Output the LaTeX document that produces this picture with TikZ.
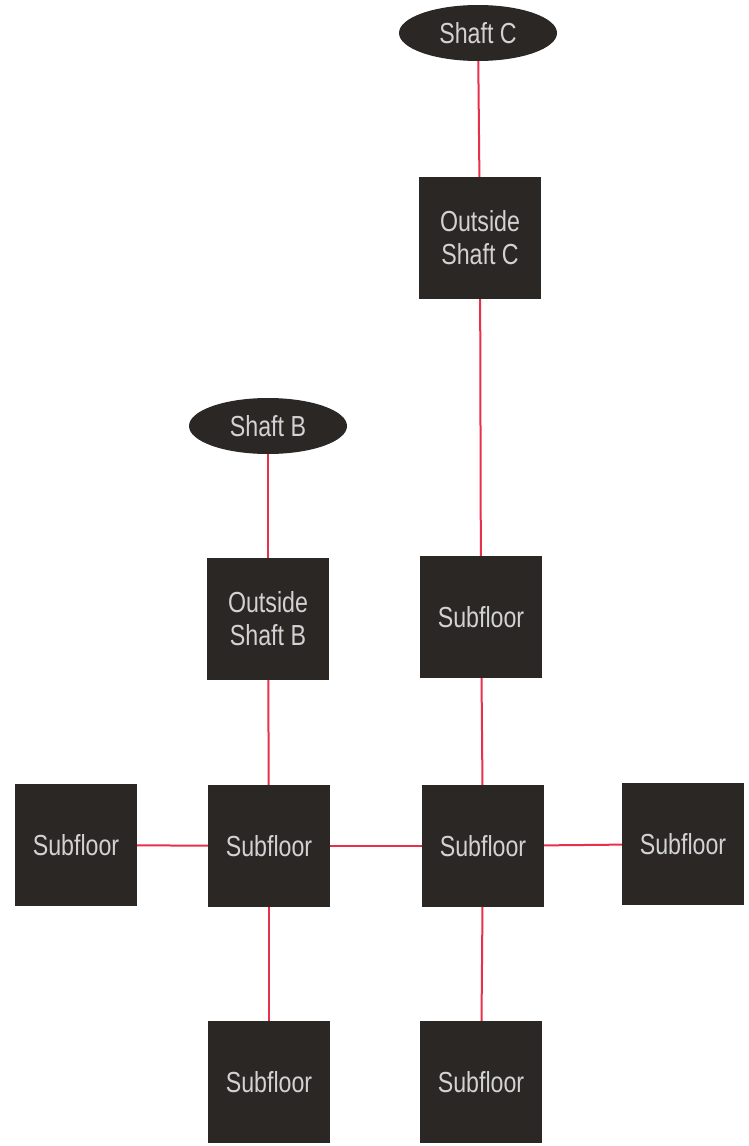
\documentclass[tikz,border=0pt]{standalone}
\usepackage{fontspec}
\setmainfont{Liberation Sans}[FakeStretch=0.8]
\usetikzlibrary{shapes.geometric}
\definecolor{boxfill}{HTML}{2A2725}
\definecolor{boxtext}{HTML}{D2D2D2}
\definecolor{linkred}{HTML}{E8304A}
\tikzset{
  roombox/.style={draw=none,fill=boxfill,text=boxtext,rectangle,align=center,
    minimum width=122pt,minimum height=122pt,inner sep=0pt,
    font=\fontsize{29}{33}\selectfont},
  shaftnode/.style={draw=none,fill=boxfill,text=boxtext,ellipse,
    minimum width=158pt,minimum height=56pt,inner sep=0pt,
    font=\fontsize{29}{33}\selectfont},
  link/.style={draw=linkred,line width=2pt}
}
\begin{document}
\begin{tikzpicture}[x=1pt,y=-1pt]
\useasboundingbox (0,0) rectangle (748,1146);
\node[shaftnode] (shaftc) at (478,33) {Shaft C};
\node[roombox] (outc) at (480,238) {Outside\\Shaft C};
\node[roombox] (subtop) at (481,617) {Subfloor};
\node[shaftnode] (shaftb) at (268,426) {Shaft B};
\node[roombox] (outb) at (268,619) {Outside\\Shaft B};
\node[roombox] (subl) at (76,845) {Subfloor};
\node[roombox] (subml) at (269,846) {Subfloor};
\node[roombox] (submr) at (483,846) {Subfloor};
\node[roombox] (subr) at (683,844) {Subfloor};
\node[roombox] (subbl) at (269,1082) {Subfloor};
\node[roombox] (subbr) at (481,1082) {Subfloor};
\draw[link] (shaftc) -- (outc);
\draw[link] (outc) -- (subtop);
\draw[link] (subtop) -- (submr);
\draw[link] (submr) -- (subbr);
\draw[link] (shaftb) -- (outb);
\draw[link] (outb) -- (subml);
\draw[link] (subml) -- (subbl);
\draw[link] (subl) -- (subml);
\draw[link] (subml) -- (submr);
\draw[link] (submr) -- (subr);
\end{tikzpicture}
\end{document}
